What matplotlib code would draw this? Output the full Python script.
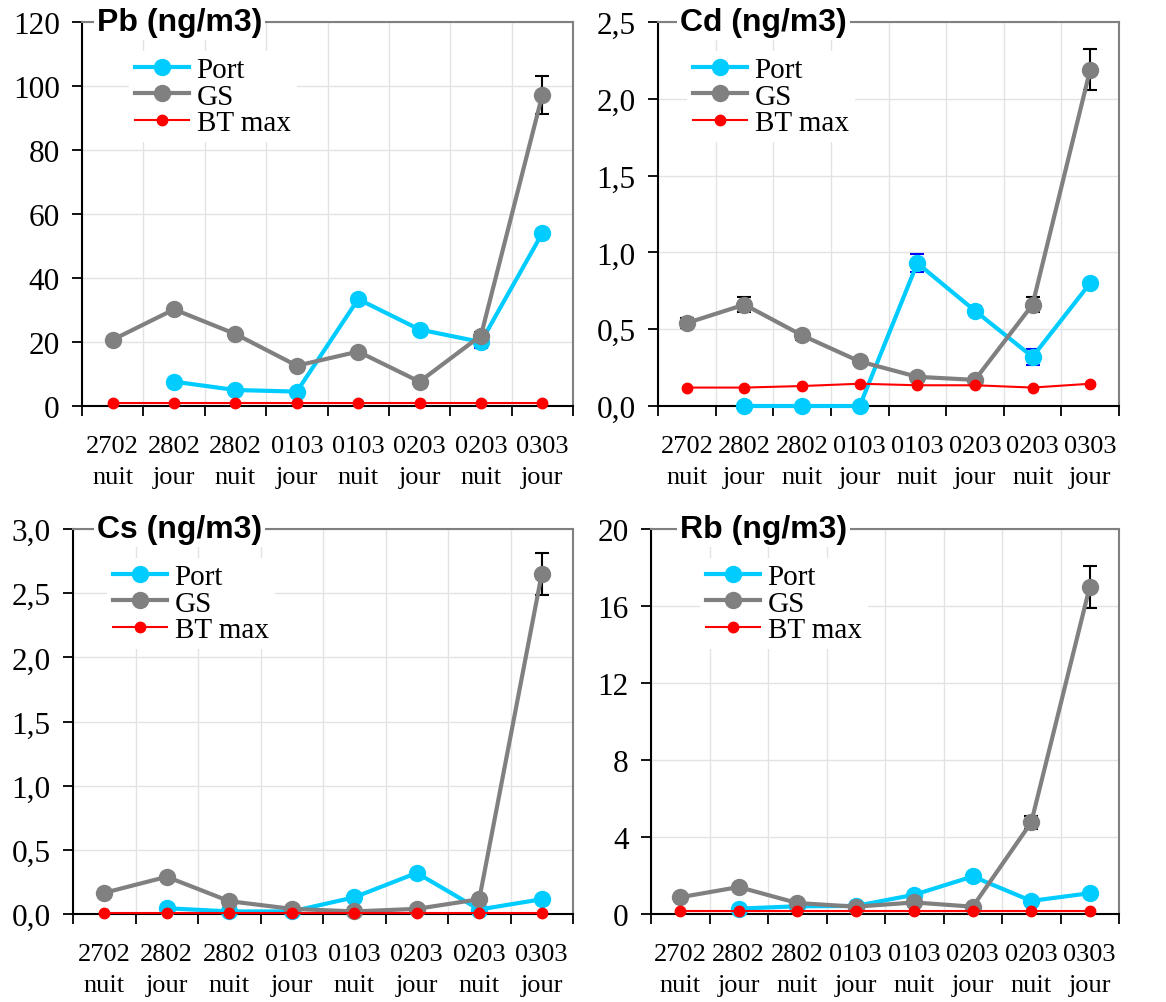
import numpy as np
import matplotlib
matplotlib.use("Agg")
import matplotlib.pyplot as plt
from matplotlib.ticker import FuncFormatter, FixedLocator

categories = ["2702\nnuit", "2802\njour", "2802\nnuit", "0103\njour",
              "0103\nnuit", "0203\njour", "0203\nnuit", "0303\njour"]
series_names = ["Port", "GS", "BT max"]

# Pb (ng/m3)
pb_port = [np.nan, 7.6, 5.0, 4.5, 33.4, 23.9, 20.0, 54.0]
pb_gs = [20.7, 30.2, 22.5, 12.6, 17.0, 7.6, 22.0, 97.2]
pb_bt = [0.8, 0.8, 0.8, 0.8, 0.8, 0.8, 0.8, 0.8]
pb_port_err = [0, 0.3, 0.2, 0.2, 0.8, 0.8, 2.0, 1.0]
pb_gs_err = [1.0, 1.2, 1.0, 0.8, 0.8, 0.6, 1.2, 6.0]

# Cd (ng/m3)
cd_port = [np.nan, 0.0, 0.0, 0.0, 0.93, 0.62, 0.32, 0.80]
cd_gs = [0.54, 0.66, 0.46, 0.29, 0.19, 0.17, 0.66, 2.19]
cd_bt = [0.12, 0.12, 0.13, 0.145, 0.135, 0.135, 0.12, 0.145]
cd_port_err = [0, 0, 0, 0, 0.06, 0.03, 0.05, 0.02]
cd_gs_err = [0.03, 0.05, 0.03, 0.01, 0.01, 0.01, 0.05, 0.135]

# Cs (ng/m3)
cs_port = [np.nan, 0.045, 0.02, 0.02, 0.13, 0.32, 0.035, 0.115]
cs_gs = [0.165, 0.29, 0.10, 0.04, 0.02, 0.04, 0.115, 2.65]
cs_bt = [0.006, 0.006, 0.006, 0.006, 0.006, 0.006, 0.006, 0.006]
cs_port_err = [0, 0.003, 0.002, 0.002, 0.005, 0.005, 0.003, 0.005]
cs_gs_err = [0.01, 0.01, 0.01, 0.005, 0.005, 0.005, 0.01, 0.165]

# Rb (ng/m3)
rb_port = [np.nan, 0.28, 0.4, 0.42, 1.0, 1.95, 0.68, 1.08]
rb_gs = [0.87, 1.4, 0.57, 0.38, 0.6, 0.38, 4.76, 17.0]
rb_bt = [0.16, 0.16, 0.16, 0.16, 0.16, 0.16, 0.16, 0.16]
rb_port_err = [0, 0.02, 0.02, 0.02, 0.05, 0.05, 0.05, 0.05]
rb_gs_err = [0.1, 0.15, 0.05, 0.03, 0.05, 0.05, 0.33, 1.1]

titles = ["Pb (ng/m3)", "Cd (ng/m3)", "Cs (ng/m3)", "Rb (ng/m3)"]
y_ticks = [[0, 20, 40, 60, 80, 100, 120],
           [0.0, 0.5, 1.0, 1.5, 2.0, 2.5],
           [0.0, 0.5, 1.0, 1.5, 2.0, 2.5, 3.0],
           [0, 4, 8, 12, 16, 20]]
decimals = [0, 1, 1, 0]

C_PORT = "#00CCFF"
C_GS = "#808080"
C_BT = "#FF0000"
SERIF = ["Liberation Serif", "DejaVu Serif"]

W, H = 1166, 1003
fig = plt.figure(figsize=(W / 100, H / 100), dpi=100)

# axes rectangles in pixels: left, top, right, bottom
rects = [(82, 23, 573, 407), (658, 23, 1119, 407),
         (73, 530, 573, 915), (651, 530, 1119, 915)]
title_off = [15, 22, 24, 29]
legend_off = [53, 35, 40, 55]

data = [(pb_port, pb_gs, pb_bt, pb_port_err, pb_gs_err),
        (cd_port, cd_gs, cd_bt, cd_port_err, cd_gs_err),
        (cs_port, cs_gs, cs_bt, cs_port_err, cs_gs_err),
        (rb_port, rb_gs, rb_bt, rb_port_err, rb_gs_err)]

x = np.arange(len(categories))

for i, (port, gs, bt, perr, gerr) in enumerate(data):
    l, t, r, b = rects[i]
    ax = fig.add_axes([l / W, 1 - b / H, (r - l) / W, (b - t) / H])
    ax.set_xlim(-0.5, len(categories) - 0.5)
    ax.set_ylim(y_ticks[i][0], y_ticks[i][-1])

    ax.errorbar(x, port, yerr=perr, fmt="none", ecolor="#0000FF",
                elinewidth=1.5, capsize=5, capthick=1.5, zorder=2)
    ax.errorbar(x, gs, yerr=gerr, fmt="none", ecolor="black",
                elinewidth=1.5, capsize=5, capthick=1.5, zorder=2)
    ax.plot(x, port, color=C_PORT, lw=3.0, marker="o", ms=11.5,
            label=series_names[0], zorder=3, clip_on=False)
    ax.plot(x, gs, color=C_GS, lw=3.0, marker="o", ms=11.5,
            label=series_names[1], zorder=4, clip_on=False)
    ax.plot(x, bt, color=C_BT, lw=1.5, marker="o", ms=7.5,
            label=series_names[2], zorder=5, clip_on=False)

    # ticks
    ax.xaxis.set_major_locator(FixedLocator(np.arange(-0.5, len(categories), 1.0)))
    ax.xaxis.set_minor_locator(FixedLocator(x))
    ax.set_xticklabels([], minor=False)
    ax.set_xticklabels(categories, minor=True, fontfamily=SERIF, fontsize=19,
                       linespacing=1.5)
    ax.tick_params(axis="x", which="major", length=7, width=1.3, direction="out")
    ax.tick_params(axis="x", which="minor", length=0, pad=21)
    ax.set_yticks(y_ticks[i])
    dec = decimals[i]
    ax.yaxis.set_major_formatter(FuncFormatter(
        lambda v, p, d=dec: (f"{v:.{d}f}").replace(".", ",")))
    for lab in ax.get_yticklabels():
        lab.set_fontfamily(SERIF)
        lab.set_fontsize(22.5)
    ax.tick_params(axis="y", length=7.5, width=1.3, direction="out", pad=8.5)

    ax.grid(True, which="major", color="#E3E3E3", lw=1.0, zorder=0)
    ax.set_axisbelow(True)

    for s in ["left", "bottom"]:
        ax.spines[s].set_color("black")
        ax.spines[s].set_linewidth(1.5)
    for s in ["top", "right"]:
        ax.spines[s].set_color(C_GS)
        ax.spines[s].set_linewidth(1.5)

    # title over the top border
    ax.text(title_off[i] / (r - l), 1.0, titles[i], transform=ax.transAxes,
            ha="left", va="center", fontsize=23, fontweight="bold",
            fontfamily=["Liberation Sans", "DejaVu Sans"],
            bbox=dict(facecolor="white", edgecolor="none", pad=2),
            zorder=10)

    leg = ax.legend(loc="upper left",
                    bbox_to_anchor=((legend_off[i] - 6) / (r - l), 1 - 29 / (b - t)),
                    frameon=True, fancybox=False, framealpha=1,
                    edgecolor="none", facecolor="white",
                    prop={"family": SERIF, "size": 21},
                    handlelength=1.85, handletextpad=0.27, labelspacing=0.0,
                    borderpad=0.2, borderaxespad=0)
    leg.set_zorder(9)

fig.savefig("out.png", dpi=100)
